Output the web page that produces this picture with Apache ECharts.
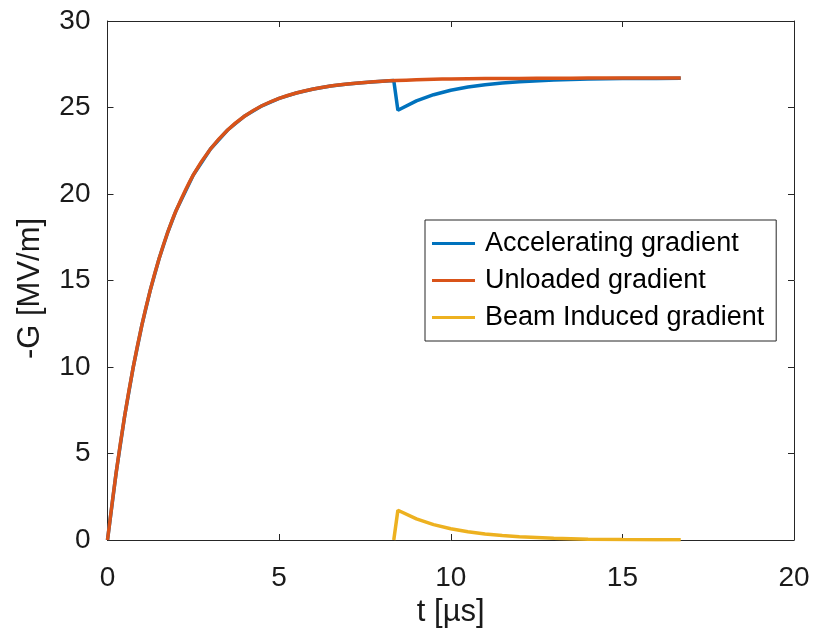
<!DOCTYPE html>
<html>
<head>
<meta charset="utf-8">
<script src="https://cdn.jsdelivr.net/npm/echarts@6/dist/echarts.min.js"></script>
<style>html,body{margin:0;padding:0;background:#fff;}#c{width:814px;height:633px;}</style>
</head>
<body>
<div id="c"></div>
<script>
// Time samples [µs]
const tUnloaded = [0,0.25,0.5,0.75,1.0,1.25,1.5,1.75,2.0,2.5,3.0,3.5,4.0,4.5,5.0,5.5,6.0,6.5,7.0,7.5,8.0,8.4,9.0,9.5,10,11,12,13,14,15,16,16.7];
const gUnloaded = [0,3.86,7.17,9.99,12.41,14.47,16.24,17.76,19.05,21.10,22.60,23.70,24.51,25.10,25.53,25.84,26.07,26.24,26.36,26.45,26.52,26.56,26.60,26.63,26.65,26.67,26.68,26.69,26.70,26.70,26.70,26.70];

const tAccel = [0,0.25,0.5,0.75,1.0,1.25,1.5,1.75,2.0,2.5,3.0,3.5,4.0,4.5,5.0,5.5,6.0,6.5,7.0,7.5,8.0,8.34,8.46,9.0,9.5,10,10.5,11,11.5,12,13,14,15,16,16.7];
const gAccel = [0,3.86,7.17,9.99,12.41,14.47,16.24,17.76,19.05,21.10,22.60,23.70,24.51,25.10,25.53,25.84,26.07,26.24,26.36,26.45,26.52,26.56,24.84,25.38,25.74,26.00,26.18,26.32,26.42,26.49,26.59,26.65,26.67,26.68,26.69];

const tBeam = [8.34,8.46,9.0,9.5,10,10.5,11,11.5,12,13,14,15,16,16.7];
const gBeam = [0,1.72,1.22,0.89,0.65,0.48,0.35,0.26,0.19,0.10,0.05,0.03,0.02,0.01];

const xTicks = [0,5,10,15,20];
const yTicks = [0,5,10,15,20,25,30];
const seriesNames = ['Accelerating gradient','Unloaded gradient','Beam Induced gradient'];

const zip = (a,b) => a.map((v,i)=>[v,b[i]]);
const FONT = '"Liberation Sans", Arial, Helvetica, sans-serif';
const axisCol = '#262626';

const chart = echarts.init(document.getElementById('c'), null, {renderer:'canvas'});
const baseX = {
  type:'value', min:xTicks[0], max:xTicks[xTicks.length-1], interval:5,
  axisLine:{show:true, onZero:false, lineStyle:{color:axisCol,width:1}},
  axisTick:{show:true, inside:true, length:6, lineStyle:{color:axisCol}},
  splitLine:{show:false}
};
const baseY = {
  type:'value', min:yTicks[0], max:yTicks[yTicks.length-1], interval:5,
  axisLine:{show:true, onZero:false, lineStyle:{color:axisCol,width:1}},
  axisTick:{show:true, inside:true, length:6, lineStyle:{color:axisCol}},
  splitLine:{show:false}
};
chart.setOption({
  animation:false,
  backgroundColor:'#fff',
  grid:{left:107.5, right:20, top:21, bottom:91},
  xAxis:[
    Object.assign({}, baseX, {
      position:'bottom',
      name:'t [µs]', nameLocation:'middle', nameGap:57,
      nameTextStyle:{fontFamily:FONT, fontSize:31, color:'#1a1a1a'},
      axisLabel:{fontFamily:FONT, fontSize:28, color:'#1a1a1a', margin:24}
    }),
    Object.assign({}, baseX, {position:'top', axisLabel:{show:false}})
  ],
  yAxis:[
    Object.assign({}, baseY, {
      position:'left',
      name:'-G [MV/m]', nameLocation:'middle', nameGap:62, nameRotate:90,
      nameTextStyle:{fontFamily:FONT, fontSize:31, color:'#1a1a1a', padding:[0,0,0,-16]},
      axisLabel:{fontFamily:FONT, fontSize:28, color:'#1a1a1a', margin:17}
    }),
    Object.assign({}, baseY, {position:'right', axisLabel:{show:false}})
  ],
  legend:{
    show:true, orient:'vertical', left:425, top:220,
    data:seriesNames,
    itemWidth:43, itemHeight:3, itemGap:10,
    icon:'rect',
    padding:[10,12,10,7],
    borderColor:axisCol, borderWidth:1, backgroundColor:'#fff',
    textStyle:{fontFamily:FONT, fontSize:27, color:'#000', padding:[0,0,0,5]}
  },
  series:[
    {name:seriesNames[0], type:'line', data:zip(tAccel,gAccel), showSymbol:false, symbol:'none',
     lineStyle:{color:'#0072BD', width:3.5}, itemStyle:{color:'#0072BD'}, z:2},
    {name:seriesNames[1], type:'line', data:zip(tUnloaded,gUnloaded), showSymbol:false, symbol:'none', smooth:0.3,
     lineStyle:{color:'#D95319', width:3.5}, itemStyle:{color:'#D95319'}, z:3},
    {name:seriesNames[2], type:'line', data:zip(tBeam,gBeam), showSymbol:false, symbol:'none',
     lineStyle:{color:'#EDB120', width:3.5}, itemStyle:{color:'#EDB120'}, z:4}
  ]
});
</script>
</body>
</html>
